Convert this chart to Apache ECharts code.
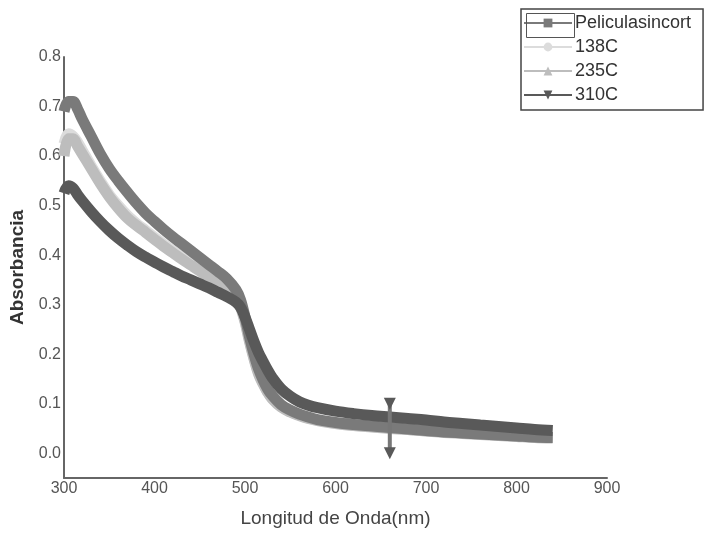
<!DOCTYPE html>
<html><head><meta charset="utf-8">
<script src="https://cdn.jsdelivr.net/npm/echarts@6/dist/echarts.min.js"></script>
<style>html,body{margin:0;padding:0;background:#fff}#c{width:715px;height:533px}</style>
</head><body><div id="c"></div>
<script>
var wavelengths = [300,305,310,315,320,330,340,350,360,370,380,390,400,410,420,430,440,450,460,470,480,490,495,500,505,510,515,520,525,530,540,550,560,570,580,600,620,640,660,680,700,720,740,760,780,800,820,840];
var sinCort = [0.69,0.71,0.71,0.695,0.675,0.64,0.605,0.575,0.55,0.527,0.505,0.485,0.468,0.452,0.437,0.423,0.409,0.395,0.381,0.367,0.352,0.33,0.31,0.275,0.235,0.20,0.17,0.148,0.13,0.117,0.098,0.087,0.079,0.073,0.068,0.062,0.058,0.055,0.052,0.049,0.046,0.043,0.041,0.039,0.037,0.035,0.033,0.032];
var c138 = [0.625,0.645,0.64,0.628,0.612,0.58,0.55,0.522,0.5,0.48,0.464,0.45,0.436,0.422,0.409,0.396,0.384,0.372,0.36,0.347,0.333,0.315,0.298,0.268,0.228,0.192,0.162,0.141,0.124,0.111,0.094,0.084,0.077,0.071,0.067,0.061,0.057,0.054,0.051,0.048,0.045,0.043,0.041,0.039,0.037,0.035,0.033,0.032];
var c235 = [0.60,0.635,0.635,0.62,0.605,0.575,0.545,0.518,0.495,0.475,0.46,0.446,0.432,0.418,0.405,0.392,0.38,0.368,0.355,0.342,0.328,0.31,0.295,0.265,0.225,0.19,0.16,0.14,0.123,0.11,0.093,0.083,0.076,0.07,0.066,0.06,0.056,0.053,0.05,0.048,0.045,0.042,0.04,0.038,0.036,0.034,0.032,0.031];
var c310 = [0.525,0.54,0.535,0.522,0.51,0.488,0.468,0.45,0.434,0.42,0.407,0.396,0.386,0.376,0.367,0.358,0.35,0.342,0.334,0.325,0.316,0.305,0.295,0.275,0.25,0.225,0.203,0.185,0.168,0.153,0.13,0.115,0.104,0.097,0.092,0.085,0.08,0.076,0.073,0.07,0.067,0.063,0.06,0.057,0.054,0.051,0.048,0.046];
var spikeX = [660,660];
var spikeY = [0.10,0.0];
var seriesNames = ['Peliculasincort','138C','235C','310C'];
var yTicks = [0,0.1,0.2,0.3,0.4,0.5,0.6,0.7,0.8];

function pairs(xs, ys){ return xs.map(function(x,i){return [x, ys[i]];}); }

var chart = echarts.init(document.getElementById('c'), null, {renderer:'canvas'});
var FONT = '"Liberation Sans", Arial, sans-serif';
function lineSeries(name, data, color, symbol, rot, z){
  return {name:name, type:'line', data:pairs(wavelengths,data), smooth:0.35, showSymbol:false,
    symbol:symbol, symbolRotate:rot, symbolSize:10, z:z,
    lineStyle:{color:color, width:11}, itemStyle:{color:color}};
}
chart.setOption({
  animation:false,
  backgroundColor:'#fff',
  grid:{left:59, right:108, top:57, bottom:50, containLabel:false},
  legend:{
    orient:'vertical', left:521, top:9, data:seriesNames,
    itemWidth:48, itemHeight:11, itemGap:6,
    padding:[5,12,6,2],
    borderColor:'#444', borderWidth:1.5,
    textStyle:{fontFamily:FONT, fontSize:18, color:'#333', padding:[0,0,0,-2]}
  },
  graphic:[{type:'rect', left:524, top:11, shape:{width:48, height:24},
    style:{fill:'none', stroke:'#555', lineWidth:1}, z:100}],
  xAxis:{
    type:'value', min:300, max:900, interval:100,
    name:'Longitud de Onda(nm)', nameLocation:'middle', nameGap:31,
    nameTextStyle:{fontFamily:FONT, fontSize:19, color:'#444'},
    axisLine:{show:true, onZero:false, lineStyle:{color:'#666', width:2}},
    axisTick:{show:false}, splitLine:{show:false},
    axisLabel:{fontFamily:FONT, fontSize:16, color:'#555', margin:3}
  },
  yAxis:{
    type:'value', min:-0.05, max:0.8,
    name:'Absorbancia', nameLocation:'middle', nameGap:37,
    nameTextStyle:{fontFamily:FONT, fontSize:19, fontWeight:'bold', color:'#333'},
    axisLine:{show:true, onZero:false, lineStyle:{color:'#666', width:2}},
    axisTick:{show:false}, splitLine:{show:false},
    axisLabel:{fontFamily:FONT, fontSize:16, color:'#555', margin:3, customValues:yTicks,
      formatter:function(v){return v.toFixed(1);}}
  },
  series:[
    lineSeries('138C', c138, '#dcdcdc', 'circle', 0, 2),
    lineSeries('235C', c235, '#bdbdbd', 'triangle', 0, 3),
    lineSeries('Peliculasincort', sinCort, '#7a7a7a', 'rect', 0, 4),
    lineSeries('310C', c310, '#595959', 'triangle', 180, 5),
    {name:'spike', type:'line', data:pairs(spikeX,spikeY), symbol:'triangle', symbolRotate:180, symbolSize:12,
      showSymbol:true, z:6, lineStyle:{color:'#777', width:4}, itemStyle:{color:'#595959'}}
  ]
});
</script></body></html>
